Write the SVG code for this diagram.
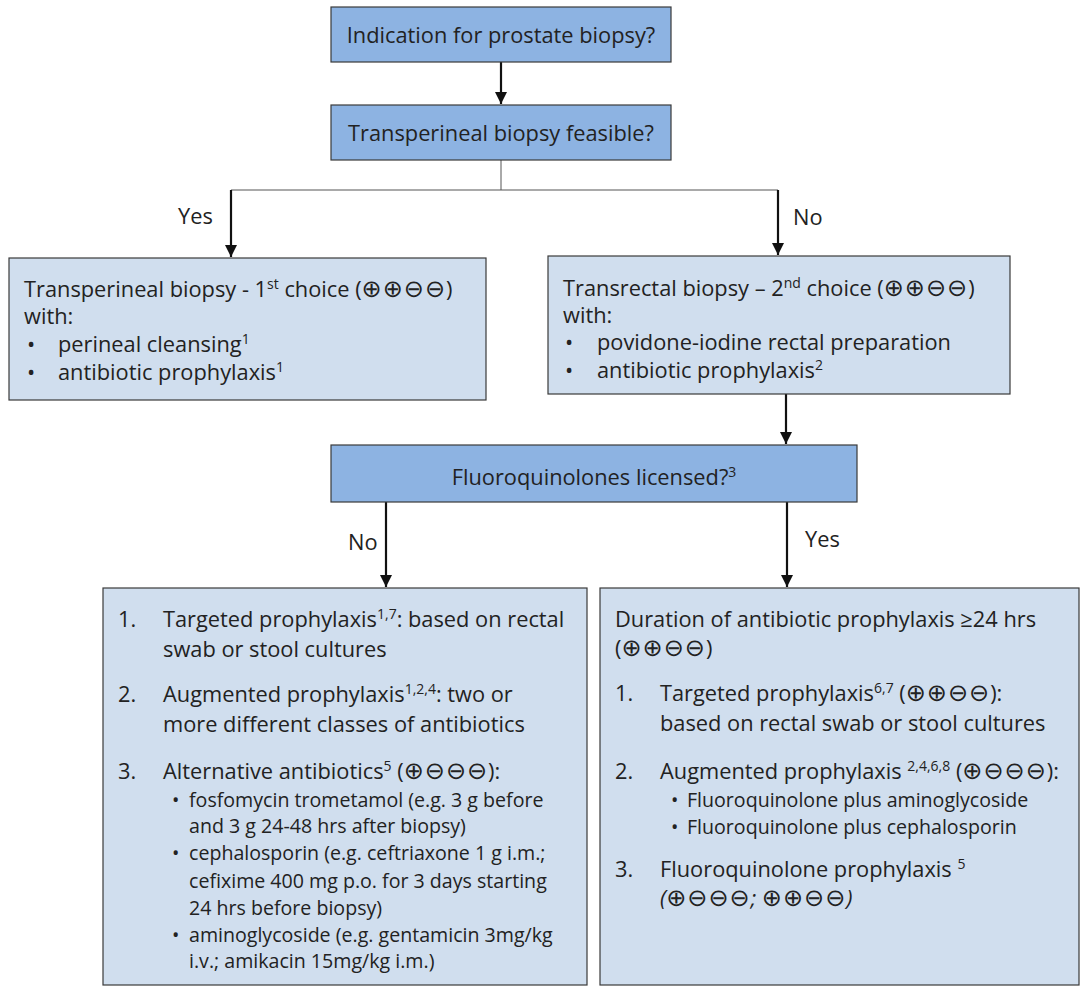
<svg xmlns="http://www.w3.org/2000/svg" width="1080" height="986" viewBox="0 0 1080 986">
<defs>
<marker id="ah" viewBox="0 0 12 12" refX="12" refY="6" markerWidth="12" markerHeight="12" markerUnits="userSpaceOnUse" orient="auto">
<path d="M0,0 L12,6 L0,12 Z" fill="#111"/>
</marker>
<style>
text{font-family:"Open Sans","DejaVu Sans",sans-serif;fill:#222;font-size:21.8px}
.dark{fill:#8DB3E2;stroke:#3a3a3a;stroke-width:1.2}
.light{fill:#D0DEEE;stroke:#3a3a3a;stroke-width:1.2}
.arr{stroke:#111;stroke-width:2.2;fill:none;marker-end:url(#ah)}
.thin{stroke:#555;stroke-width:1;fill:none}
.sm{font-size:19.6px}
.sym{font-family:"DejaVu Sans",sans-serif;font-size:24px;font-style:normal;letter-spacing:1px}
.sup{font-size:14px}
</style>
</defs>
<rect width="1080" height="986" fill="#fff"/>
<g id="connectors">
<line class="arr" x1="501" y1="62" x2="501" y2="104"/>
<line class="thin" x1="501" y1="160" x2="501" y2="190"/>
<line class="thin" x1="231" y1="190" x2="778" y2="190"/>
<line class="arr" x1="231" y1="190" x2="231" y2="257"/>
<line class="arr" x1="778" y1="190" x2="778" y2="255"/>
<line class="arr" x1="786" y1="394" x2="786" y2="444"/>
<line class="arr" x1="386" y1="502" x2="386" y2="587"/>
<line class="arr" x1="787" y1="502" x2="787" y2="587"/>
<text x="178" y="224">Yes</text>
<text x="793" y="225">No</text>
<text x="348" y="550">No</text>
<text x="805" y="547">Yes</text>
</g>
<g id="n1">
<rect class="dark" x="331" y="7" width="340" height="55"/>
<text x="501" y="43" text-anchor="middle">Indication for prostate biopsy?</text>
</g>
<g id="n2">
<rect class="dark" x="331" y="105" width="340" height="55"/>
<text x="501" y="141" text-anchor="middle">Transperineal biopsy feasible?</text>
</g>
<g id="n3">
<rect class="light" x="9" y="258" width="477" height="142"/>
<text x="24" y="297">Transperineal biopsy - 1<tspan dy="-8" class="sup">st</tspan><tspan dy="8"> choice (<tspan class="sym">⊕⊕⊖⊖</tspan>)</tspan></text>
<text x="24" y="324">with:</text>
<text x="27" y="352">•</text><text x="58" y="352">perineal cleansing<tspan dy="-8" class="sup">1</tspan></text>
<text x="27" y="380">•</text><text x="58" y="380">antibiotic prophylaxis<tspan dy="-8" class="sup">1</tspan></text>
</g>
<g id="n4">
<rect class="light" x="548" y="256" width="462" height="138"/>
<text x="563" y="296">Transrectal biopsy – 2<tspan dy="-8" class="sup">nd</tspan><tspan dy="8"> choice (<tspan class="sym">⊕⊕⊖⊖</tspan>)</tspan></text>
<text x="563" y="323">with:</text>
<text x="565" y="350">•</text><text x="597" y="350">povidone-iodine rectal preparation</text>
<text x="565" y="378">•</text><text x="597" y="378">antibiotic prophylaxis<tspan dy="-8" class="sup">2</tspan></text>
</g>
<g id="n5">
<rect class="dark" x="331" y="445" width="526" height="57"/>
<text x="594" y="485" text-anchor="middle">Fluoroquinolones licensed?<tspan dy="-8" class="sup">3</tspan></text>
</g>
<g id="n6">
<rect class="light" x="103" y="588" width="484" height="397"/>
<text x="118" y="627">1.</text>
<text x="163" y="627">Targeted prophylaxis<tspan dy="-8" class="sup">1,7</tspan><tspan dy="8">: based on rectal</tspan></text>
<text x="163" y="657">swab or stool cultures</text>
<text x="118" y="702">2.</text>
<text x="163" y="702">Augmented prophylaxis<tspan dy="-8" class="sup">1,2,4</tspan><tspan dy="8">: two or</tspan></text>
<text x="163" y="732">more different classes of antibiotics</text>
<text x="118" y="779">3.</text>
<text x="163" y="779">Alternative antibiotics<tspan dy="-8" class="sup">5</tspan><tspan dy="8"> (<tspan class="sym">⊕⊖⊖⊖</tspan>):</tspan></text>
<text class="sm" x="172" y="807">•</text><text class="sm" x="189" y="807">fosfomycin trometamol (e.g. 3 g before</text>
<text class="sm" x="189" y="833">and 3 g 24-48 hrs after biopsy)</text>
<text class="sm" x="172" y="860">•</text><text class="sm" x="189" y="860">cephalosporin (e.g. ceftriaxone 1 g i.m.;</text>
<text class="sm" x="189" y="888">cefixime 400 mg p.o. for 3 days starting</text>
<text class="sm" x="189" y="915">24 hrs before biopsy)</text>
<text class="sm" x="172" y="942">•</text><text class="sm" x="189" y="942">aminoglycoside (e.g. gentamicin 3mg/kg</text>
<text class="sm" x="189" y="968">i.v.; amikacin 15mg/kg i.m.)</text>
</g>
<g id="n7">
<rect class="light" x="600" y="588" width="479" height="397"/>
<text x="615" y="627">Duration of antibiotic prophylaxis ≥24 hrs</text>
<text x="615" y="656">(<tspan class="sym">⊕⊕⊖⊖</tspan>)</text>
<text x="615" y="701">1.</text>
<text x="660" y="701">Targeted prophylaxis<tspan dy="-8" class="sup">6,7</tspan><tspan dy="8"> (<tspan class="sym">⊕⊕⊖⊖</tspan>):</tspan></text>
<text x="660" y="731">based on rectal swab or stool cultures</text>
<text x="615" y="779">2.</text>
<text x="660" y="779">Augmented prophylaxis <tspan dy="-8" class="sup">2,4,6,8</tspan><tspan dy="8"> (<tspan class="sym">⊕⊖⊖⊖</tspan>):</tspan></text>
<text class="sm" x="671" y="807">•</text><text class="sm" x="687" y="807">Fluoroquinolone plus aminoglycoside</text>
<text class="sm" x="671" y="834">•</text><text class="sm" x="687" y="834">Fluoroquinolone plus cephalosporin</text>
<text x="615" y="877">3.</text>
<text x="660" y="877">Fluoroquinolone prophylaxis <tspan dy="-8" class="sup">5</tspan></text>
<text x="660" y="906" font-style="italic">(<tspan class="sym" font-style="oblique">⊕⊖⊖⊖</tspan>; <tspan class="sym" font-style="oblique">⊕⊕⊖⊖</tspan>)</text>
</g>
</svg>
